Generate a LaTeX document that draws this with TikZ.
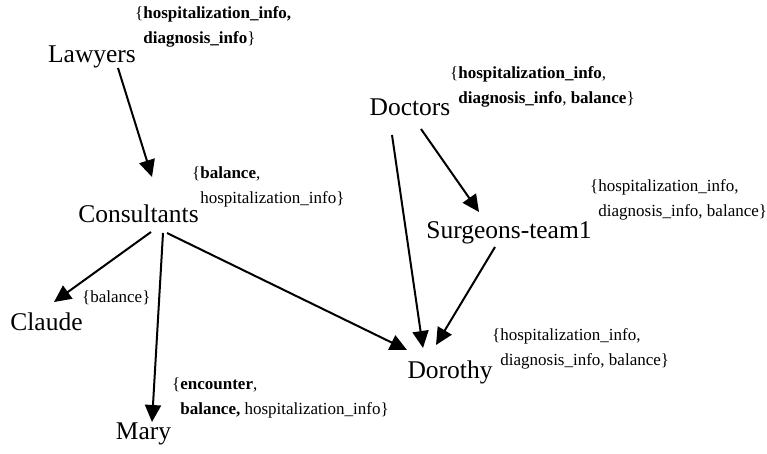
\documentclass[tikz,border=0pt]{standalone}
\usepackage{fontspec}
\setmainfont{Liberation Serif}
\usetikzlibrary{arrows.meta}
\begin{document}
\begin{tikzpicture}[x=1pt,y=1pt,
  party/.style={inner sep=0pt, anchor=base, font=\fontsize{25.5}{30}\selectfont},
  attrs/.style={inner sep=0pt, anchor=base west, align=left, font=\fontsize{17}{25}\selectfont},
  flow/.style={line width=2pt, -{Triangle[length=17pt,width=16pt]}}]
\useasboundingbox (0,0) rectangle (767,-453);

% parties
\node[party] (law)    at (92,-62)    {Lawyers};
\node[party] (doc)    at (410,-115)  {Doctors};
\node[party] (cons)   at (138.5,-222) {Consultants};
\node[party] (surg)   at (509,-238)  {Surgeons-team1};
\node[party] (claude) at (46.5,-330) {Claude};
\node[party] (dor)    at (450,-378)  {Dorothy};
\node[party] (mary)   at (143.5,-439) {Mary};

% attribute sets (anchored at the baseline of their last line)
\node[attrs] (lawA) at (135,-43)
  {\{\textbf{hospitalization\_info,}\\\phantom{\{}\textbf{diagnosis\_info}\}};
\node[attrs] (docA) at (450,-103)
  {\{\textbf{hospitalization\_info},\\\phantom{\{}\textbf{diagnosis\_info}, \textbf{balance}\}};
\node[attrs] (consA) at (192,-203)
  {\{\textbf{balance},\\\phantom{\{}hospitalization\_info\}};
\node[attrs] (surgA) at (590,-216)
  {\{hospitalization\_info,\\\phantom{\{}diagnosis\_info, balance\}};
\node[attrs] (claudeA) at (82,-302) {\{balance\}};
\node[attrs] (dorA) at (492,-365)
  {\{hospitalization\_info,\\\phantom{\{}diagnosis\_info, balance\}};
\node[attrs] (maryA) at (172,-414)
  {\{\textbf{encounter},\\\phantom{\{}\textbf{balance,} hospitalization\_info\}};

% delegation flows
\draw[flow] ([shift={(26,-6)}]law.base)    -- ([shift={(13.5,45)}]cons.base);
\draw[flow] ([shift={(11,-14)}]doc.base)   -- ([shift={(-30,26)}]surg.base);
\draw[flow] ([shift={(-18,-20)}]doc.base)  -- ([shift={(-27,30)}]dor.base);
\draw[flow] ([shift={(12.5,-10)}]cons.base) -- ([shift={(7.5,28)}]claude.base);
\draw[flow] ([shift={(24.5,-11)}]cons.base) -- ([shift={(8.5,17)}]mary.base);
\draw[flow] ([shift={(28.5,-11)}]cons.base) -- ([shift={(-43,28)}]dor.base);
\draw[flow] ([shift={(-14,-9)}]surg.base)  -- ([shift={(-14,33)}]dor.base);
\end{tikzpicture}
\end{document}
